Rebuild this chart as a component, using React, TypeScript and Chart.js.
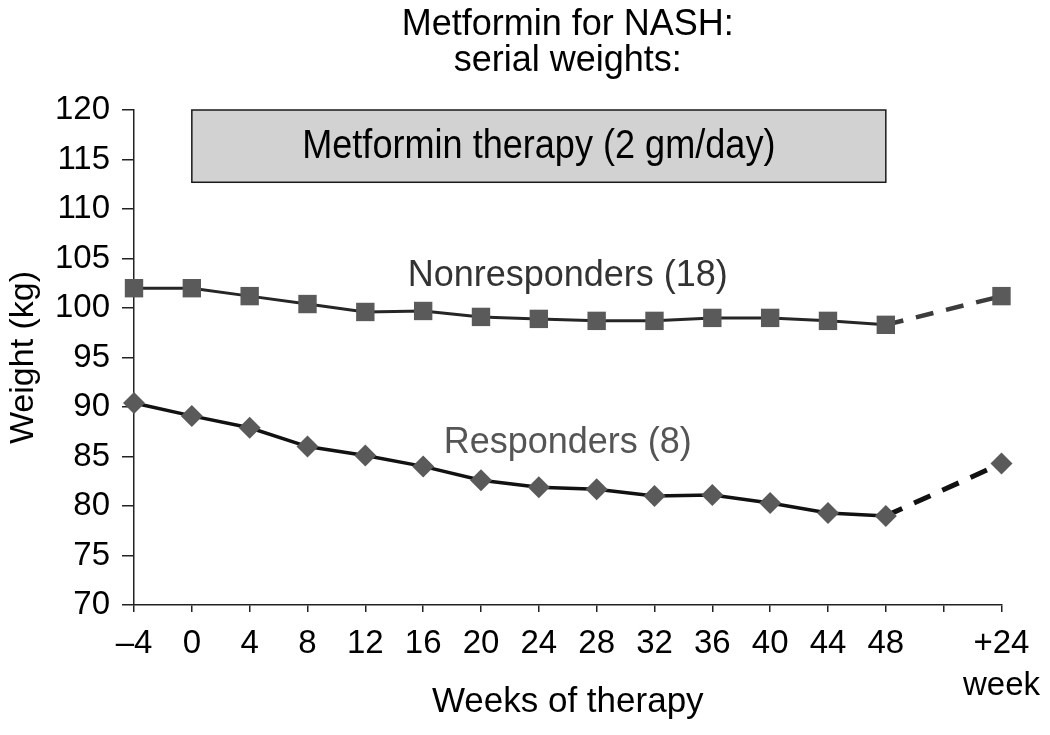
import React, { useEffect, useRef } from 'react';
import { Chart, registerables } from 'chart.js';

Chart.register(...registerables);

const weekLabels: (string | string[])[] = ['–4', '0', '4', '8', '12', '16', '20', '24', '28', '32', '36', '40', '44', '48', '', ['+24', 'week']];
const nonresponders: (number | null)[] = [102.0, 102.0, 101.2, 100.4, 99.6, 99.7, 99.1, 98.9, 98.7, 98.7, 99.0, 99.0, 98.7, 98.3, null, 101.2];
const responders: (number | null)[] = [90.4, 89.1, 87.9, 86.0, 85.1, 84.0, 82.6, 81.9, 81.7, 81.0, 81.1, 80.3, 79.3, 79.0, null, 84.3];

const yMin = 70;
const yMax = 120;
const yStep = 5;

const titleLines = ['Metformin for NASH:', 'serial weights:'];
const therapyLabel = 'Metformin therapy (2 gm/day)';
const therapyFromIndex = 1;
const therapyToIndex = 13;
const therapyLow = 112.7;
const therapyHigh = 120;

const nonLabel = 'Nonresponders (18)';
const nonLabelAt = { index: 7.5, value: 103.2 };
const respLabel = 'Responders (8)';
const respLabelAt = { index: 7.5, value: 86.4 };

const FONT = "'Liberation Sans', Arial, Helvetica, sans-serif";

const lastGapIndex = weekLabels.length - 1;

const annotationsPlugin = {
  id: 'annotations',
  afterDatasetsDraw(chart: any) {
    const { ctx, scales, chartArea } = chart;
    const x = scales.x;
    const y = scales.y;
    ctx.save();
    // therapy box
    const x0 = x.getPixelForValue(therapyFromIndex);
    const x1 = x.getPixelForValue(therapyToIndex);
    const y0 = y.getPixelForValue(therapyHigh);
    const y1 = y.getPixelForValue(therapyLow);
    ctx.fillStyle = '#d2d2d2';
    ctx.fillRect(x0, y0, x1 - x0, y1 - y0);
    ctx.strokeStyle = '#1a1a1a';
    ctx.lineWidth = 1.5;
    ctx.strokeRect(x0, y0, x1 - x0, y1 - y0);
    ctx.save();
    ctx.translate((x0 + x1) / 2, (y0 + y1) / 2 + 1);
    ctx.scale(0.88, 1);
    ctx.fillStyle = '#000';
    ctx.font = `41px ${FONT}`;
    ctx.textAlign = 'center';
    ctx.textBaseline = 'middle';
    ctx.fillText(therapyLabel, 0, 0);
    ctx.restore();

    ctx.textAlign = 'center';
    ctx.textBaseline = 'middle';
    // series labels
    ctx.font = `36px ${FONT}`;
    ctx.fillStyle = '#333';
    ctx.fillText(nonLabel, x.getPixelForValue(nonLabelAt.index), y.getPixelForValue(nonLabelAt.value));
    ctx.fillStyle = '#555';
    ctx.fillText(respLabel, x.getPixelForValue(respLabelAt.index), y.getPixelForValue(respLabelAt.value));

    // title
    ctx.fillStyle = '#000';
    ctx.font = `36px ${FONT}`;
    const cx = (chartArea.left + chartArea.right) / 2;
    ctx.fillText(titleLines[0], cx, 25);
    ctx.fillText(titleLines[1], cx, 61);
    ctx.restore();
  },
};

export default function App() {
  const canvasRef = useRef<HTMLCanvasElement | null>(null);

  useEffect(() => {
    document.body.style.margin = '0';
    const canvas = canvasRef.current;
    if (!canvas) return;
    const dashed = (color: string, width: number) => ({
      borderDash: (ctx: any) => (ctx.p1DataIndex === lastGapIndex ? [18, 13] : undefined),
      borderColor: (ctx: any) => (ctx.p1DataIndex === lastGapIndex ? color : undefined),
      borderWidth: (ctx: any) => (ctx.p1DataIndex === lastGapIndex ? width : undefined),
    });
    const chart = new Chart(canvas, {
      type: 'line',
      data: {
        labels: weekLabels as any,
        datasets: [
          {
            label: 'Nonresponders (18)',
            data: nonresponders,
            borderColor: '#262626',
            borderWidth: 3,
            pointStyle: 'rect',
            pointRadius: 13,
            pointHoverRadius: 13,
            pointBackgroundColor: '#5a5a5a',
            pointBorderColor: '#5a5a5a',
            pointBorderWidth: 0,
            spanGaps: true,
            tension: 0,
            clip: false as any,
            segment: dashed('#3c3c3c', 4.5) as any,
          },
          {
            label: 'Responders (8)',
            data: responders,
            borderColor: '#111',
            borderWidth: 3.5,
            pointStyle: 'rectRot',
            pointRadius: 11,
            pointHoverRadius: 11,
            pointBackgroundColor: '#5a5a5a',
            pointBorderColor: '#5a5a5a',
            pointBorderWidth: 0,
            spanGaps: true,
            tension: 0,
            clip: false as any,
            segment: dashed('#111', 5) as any,
          },
        ],
      },
      options: {
        animation: false,
        responsive: false,
        events: [],
        layout: { padding: { top: 110, right: 48, left: 0, bottom: 0 } },
        plugins: {
          legend: { display: false },
          title: { display: false },
          tooltip: { enabled: false },
        },
        scales: {
          x: {
            type: 'category',
            offset: false,
            ticks: {
              autoSkip: false,
              maxRotation: 0,
              color: '#000',
              padding: 10,
              font: { size: 33, family: FONT, lineHeight: 1.3 },
            },
            grid: { drawOnChartArea: false, drawTicks: true, tickLength: 7, color: '#222', lineWidth: 1.5 },
            border: { color: '#222', width: 1.5 },
            title: {
              display: true,
              text: 'Weeks of therapy',
              color: '#000',
              font: { size: 35, family: FONT, lineHeight: 1.2 },
              padding: { top: 0, bottom: 12 },
            },
            afterFit: (s: any) => {
              s.height = 130;
            },
          },
          y: {
            min: yMin,
            max: yMax,
            ticks: {
              stepSize: yStep,
              color: '#000',
              padding: 12,
              font: { size: 33, family: FONT },
            },
            grid: { drawOnChartArea: false, drawTicks: true, tickLength: 12, color: '#222', lineWidth: 1.5 },
            border: { color: '#222', width: 1.5 },
            title: {
              display: true,
              text: 'Weight (kg)',
              color: '#000',
              font: { size: 34, family: FONT, lineHeight: 1.2 },
              padding: { top: 3, bottom: 0 },
            },
            afterFit: (s: any) => {
              s.width = 134;
            },
          },
        },
      },
      plugins: [annotationsPlugin],
    });
    return () => chart.destroy();
  }, []);

  return (
    <div style={{ width: 1050, height: 735, background: '#fff' }}>
      <canvas ref={canvasRef} width={1050} height={735} style={{ display: 'block' }} />
    </div>
  );
}
